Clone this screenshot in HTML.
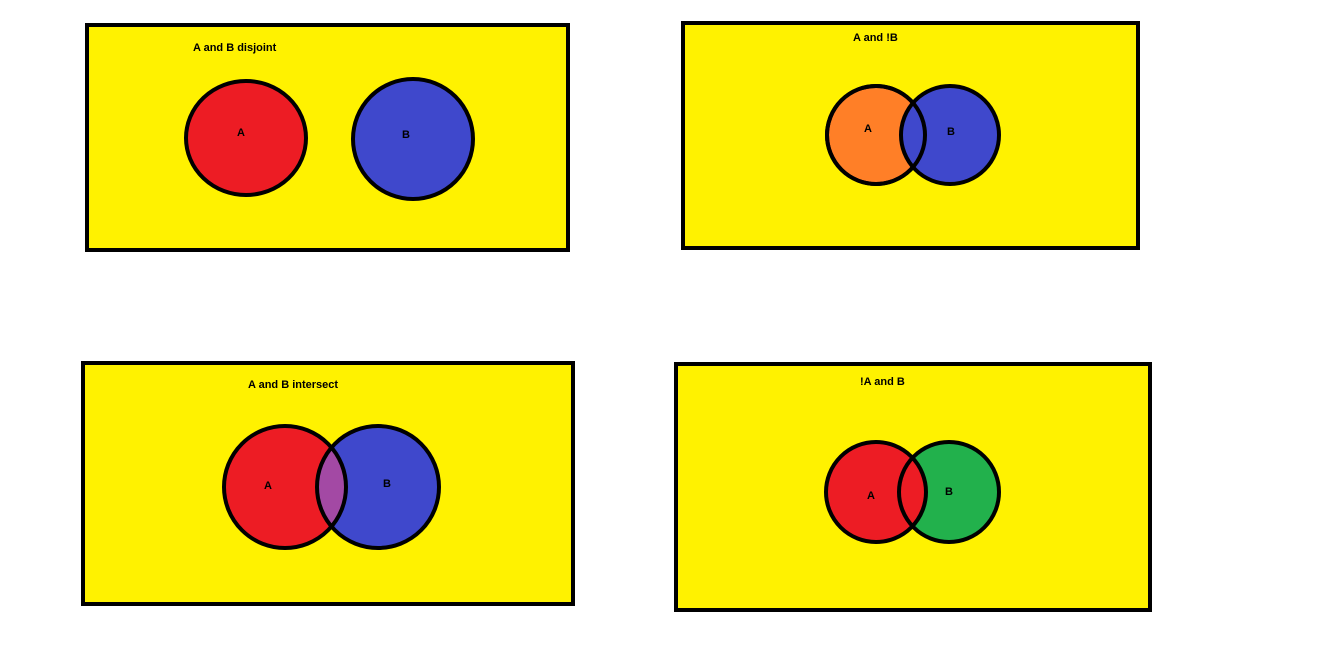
<!DOCTYPE html>
<html><head><meta charset="utf-8"><style>
html,body{margin:0;padding:0;background:#fff;width:1344px;height:668px;overflow:hidden}
text{font-family:"Liberation Sans",sans-serif;font-weight:bold;font-size:11px;fill:#000}
</style></head><body>
<svg width="1344" height="668">
<defs>
<clipPath id="c3a"><circle cx="285" cy="487" r="61"/></clipPath>
<clipPath id="c4a"><circle cx="876" cy="492" r="49"/></clipPath>
</defs>
<g>
<rect x="87" y="25" width="481" height="225" fill="#fff200" stroke="#000" stroke-width="4"/>
<text x="193" y="51">A and B disjoint</text>
<ellipse cx="246" cy="138" rx="60" ry="57" fill="#ed1c24" stroke="#000" stroke-width="4"/>
<circle cx="413" cy="139" r="60" fill="#3f48cc" stroke="#000" stroke-width="4"/>
<text x="237" y="136">A</text><text x="402" y="138">B</text>
</g>
<g>
<rect x="683" y="23" width="455" height="225" fill="#fff200" stroke="#000" stroke-width="4"/>
<text x="853" y="41">A and !B</text>
<circle cx="876" cy="135" r="49" fill="#ff7f27" stroke="#000" stroke-width="4"/>
<circle cx="950" cy="135" r="49" fill="#3f48cc" stroke="#000" stroke-width="4"/>
<circle cx="876" cy="135" r="49" fill="none" stroke="#000" stroke-width="4"/>
<text x="864" y="132">A</text><text x="947" y="135">B</text>
</g>
<g>
<rect x="83" y="363" width="490" height="241" fill="#fff200" stroke="#000" stroke-width="4"/>
<text x="248" y="388">A and B intersect</text>
<circle cx="285" cy="487" r="61" fill="#ed1c24"/>
<circle cx="378" cy="487" r="61" fill="#3f48cc"/>
<circle cx="378" cy="487" r="61" fill="#a349a4" clip-path="url(#c3a)"/>
<circle cx="285" cy="487" r="61" fill="none" stroke="#000" stroke-width="4"/>
<circle cx="378" cy="487" r="61" fill="none" stroke="#000" stroke-width="4"/>
<text x="264" y="489">A</text><text x="383" y="487">B</text>
</g>
<g>
<rect x="676" y="364" width="474" height="246" fill="#fff200" stroke="#000" stroke-width="4"/>
<text x="860" y="385">!A and B</text>
<circle cx="949" cy="492" r="50" fill="#22b14c"/>
<circle cx="876" cy="492" r="50" fill="#ed1c24"/>
<circle cx="876" cy="492" r="50" fill="none" stroke="#000" stroke-width="4"/>
<circle cx="949" cy="492" r="50" fill="none" stroke="#000" stroke-width="4"/>
<text x="867" y="499">A</text><text x="945" y="495">B</text>
</g>
</svg>
</body></html>
